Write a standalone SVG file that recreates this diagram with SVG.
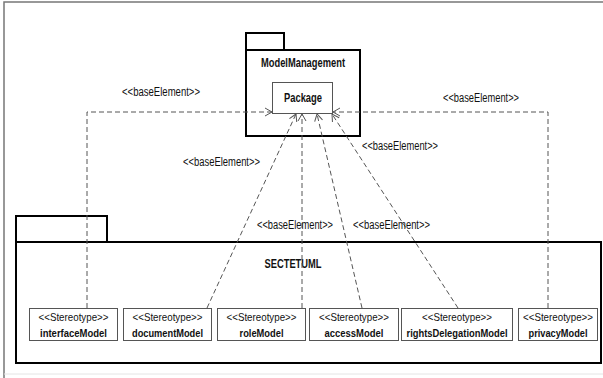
<svg xmlns="http://www.w3.org/2000/svg" width="603" height="378" viewBox="0 0 603 378">
<defs>
<style>
.pkg{fill:#fff;stroke:#000;stroke-width:2}
.box{fill:#fff;stroke:#555;stroke-width:1}
.dep{fill:none;stroke:#555;stroke-width:1;stroke-dasharray:5,3;marker-end:url(#open)}
.t{font-family:"Liberation Sans",Arial,sans-serif;font-size:12.5px;fill:#111;text-anchor:middle}
.s{font-size:11.5px}
.p{font-size:11px}
.b{font-weight:bold}
</style>
<marker id="open" markerUnits="userSpaceOnUse" markerWidth="12" markerHeight="12" refX="8" refY="5" orient="auto" viewBox="0 0 12 12">
<path d="M1,1 L8,5 L1,9" fill="none" stroke="#555" stroke-width="1"/>
</marker>
</defs>
<rect x="0" y="0" width="603" height="378" fill="#fff"/>
<path d="M4,378 V2 H603" fill="none" stroke="#777" stroke-width="1.5"/>
<line x1="4" y1="374" x2="603" y2="374" stroke="#e4e4e4" stroke-width="1"/>

<g id="ModelManagement">
<rect class="pkg" x="246" y="33" width="38" height="17"/>
<rect class="pkg" x="246" y="50" width="114" height="86"/>
<text class="t b" x="303" y="67" textLength="84" lengthAdjust="spacingAndGlyphs">ModelManagement</text>
</g>
<g id="Package">
<rect class="box" x="272.5" y="82.5" width="60" height="31"/>
<text class="t b" x="303" y="102" textLength="38" lengthAdjust="spacingAndGlyphs">Package</text>
</g>

<g id="SECTETUML">
<rect class="pkg" x="16" y="216" width="91" height="26"/>
<rect class="pkg" x="16" y="242" width="585" height="121"/>
<text class="t b" x="293" y="268" textLength="57" lengthAdjust="spacingAndGlyphs">SECTETUML</text>
</g>

<g id="interfaceModel">
<rect class="box" x="29.5" y="308.5" width="88" height="32"/>
<text class="t s" x="73.5" y="321" textLength="70" lengthAdjust="spacingAndGlyphs">&lt;&lt;Stereotype&gt;&gt;</text>
<text class="t s b" x="73.5" y="337" textLength="67" lengthAdjust="spacingAndGlyphs">interfaceModel</text>
</g>
<g id="documentModel">
<rect class="box" x="123.5" y="308.5" width="88" height="32"/>
<text class="t s" x="167.5" y="321" textLength="70" lengthAdjust="spacingAndGlyphs">&lt;&lt;Stereotype&gt;&gt;</text>
<text class="t s b" x="167.5" y="337" textLength="71" lengthAdjust="spacingAndGlyphs">documentModel</text>
</g>
<g id="roleModel">
<rect class="box" x="217.5" y="308.5" width="88" height="32"/>
<text class="t s" x="261.5" y="321" textLength="70" lengthAdjust="spacingAndGlyphs">&lt;&lt;Stereotype&gt;&gt;</text>
<text class="t s b" x="261.5" y="337" textLength="44" lengthAdjust="spacingAndGlyphs">roleModel</text>
</g>
<g id="accessModel">
<rect class="box" x="309.5" y="308.5" width="89" height="32"/>
<text class="t s" x="354" y="321" textLength="70" lengthAdjust="spacingAndGlyphs">&lt;&lt;Stereotype&gt;&gt;</text>
<text class="t s b" x="354" y="337" textLength="59" lengthAdjust="spacingAndGlyphs">accessModel</text>
</g>
<g id="rightsDelegationModel">
<rect class="box" x="401.5" y="308.5" width="111" height="32"/>
<text class="t s" x="457" y="321" textLength="70" lengthAdjust="spacingAndGlyphs">&lt;&lt;Stereotype&gt;&gt;</text>
<text class="t s b" x="457" y="337" textLength="101" lengthAdjust="spacingAndGlyphs">rightsDelegationModel</text>
</g>
<g id="privacyModel">
<rect class="box" x="518.5" y="308.5" width="79" height="32"/>
<text class="t p" x="558" y="321" textLength="70" lengthAdjust="spacingAndGlyphs">&lt;&lt;Stereotype&gt;&gt;</text>
<text class="t p b" x="558" y="337" textLength="59" lengthAdjust="spacingAndGlyphs">privacyModel</text>
</g>

<g id="connectors">
<path class="dep" d="M87,308 V112 H272"/>
<path class="dep" d="M548,308 V112 H333"/>
<path class="dep" d="M207,308 L296,114"/>
<path class="dep" d="M302,308 V114"/>
<path class="dep" d="M362,308 L317,114"/>
<path class="dep" d="M458,308 L332,114"/>
<text class="t" x="161" y="96" textLength="78" lengthAdjust="spacingAndGlyphs">&lt;&lt;baseElement&gt;&gt;</text>
<text class="t" x="221.5" y="166" textLength="77" lengthAdjust="spacingAndGlyphs">&lt;&lt;baseElement&gt;&gt;</text>
<text class="t" x="481" y="102" textLength="76" lengthAdjust="spacingAndGlyphs">&lt;&lt;baseElement&gt;&gt;</text>
<text class="t" x="400" y="150" textLength="76" lengthAdjust="spacingAndGlyphs">&lt;&lt;baseElement&gt;&gt;</text>
<text class="t" x="295" y="229" textLength="76" lengthAdjust="spacingAndGlyphs">&lt;&lt;baseElement&gt;&gt;</text>
<text class="t" x="391.5" y="229" textLength="77" lengthAdjust="spacingAndGlyphs">&lt;&lt;baseElement&gt;&gt;</text>
</g>
</svg>
